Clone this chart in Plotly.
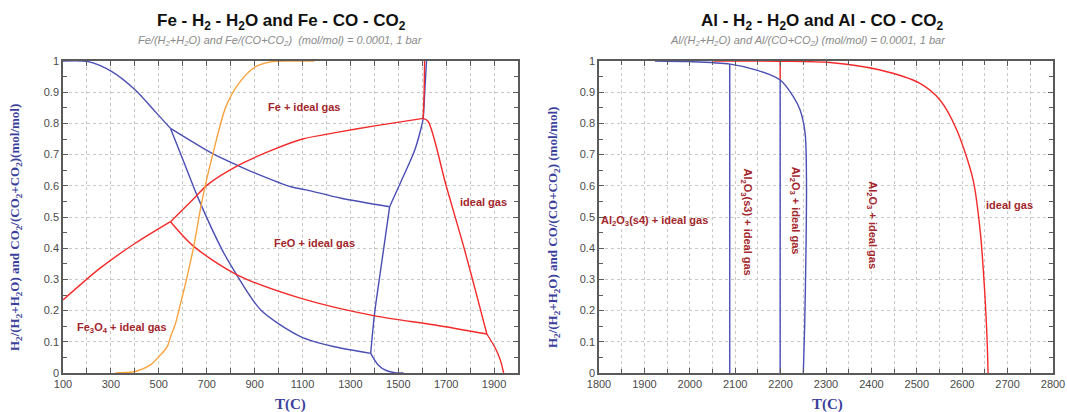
import plotly.graph_objects as go

# ---------------- Data: left panel (Fe) ----------------
fe_blue_a_T = [100, 205, 304, 402, 486, 549]
fe_blue_a_v = [1.0, 0.998, 0.966, 0.907, 0.837, 0.784]
fe_blue_b_T = [549, 600, 668, 765, 821, 926, 1094, 1234, 1385]
fe_blue_b_v = [0.784, 0.685, 0.554, 0.394, 0.320, 0.202, 0.116, 0.084, 0.063]
fe_blue_c_T = [1385, 1416, 1450, 1486, 1522]
fe_blue_c_v = [0.063, 0.026, 0.008, 0.001, 0.0]
fe_blue_d_T = [1385, 1401, 1432, 1464]
fe_blue_d_v = [0.063, 0.191, 0.36, 0.533]
fe_blue_e_T = [549, 723, 842, 905, 1052, 1115, 1262, 1464]
fe_blue_e_v = [0.784, 0.704, 0.661, 0.640, 0.597, 0.587, 0.560, 0.533]
fe_blue_f_T = [1464, 1527, 1569, 1597, 1604, 1611, 1618]
fe_blue_f_v = [0.533, 0.640, 0.715, 0.790, 0.816, 0.907, 1.0]

fe_red_a_T = [100, 255, 400, 549]
fe_red_a_v = [0.234, 0.336, 0.415, 0.485]
fe_red_b_T = [549, 654, 703, 836, 975, 1100, 1250, 1402, 1604]
fe_red_b_v = [0.485, 0.565, 0.603, 0.667, 0.715, 0.750, 0.772, 0.792, 0.816]
fe_red_c_T = [549, 647, 829, 1094, 1402, 1654, 1870]
fe_red_c_v = [0.485, 0.405, 0.314, 0.239, 0.183, 0.154, 0.125]
fe_red_d_T = [1604, 1625, 1700, 1775, 1870]
fe_red_d_v = [0.816, 0.806, 0.600, 0.400, 0.125]
fe_red_e_T = [1870, 1905, 1926, 1940]
fe_red_e_v = [0.125, 0.080, 0.042, 0.0]
fe_red_f_T = [1604, 1608, 1610]
fe_red_f_v = [0.816, 0.900, 1.0]

fe_orange_T = [318, 395, 465, 507, 535, 549, 570, 591, 612, 647, 681, 730, 780, 835, 905, 975, 1045, 1150]
fe_orange_v = [0.0, 0.004, 0.026, 0.058, 0.084, 0.116, 0.159, 0.223, 0.288, 0.41, 0.554, 0.715, 0.853, 0.929, 0.982, 0.998, 1.0, 1.0]

fe_labels = ["Fe + ideal gas", "ideal gas", "FeO + ideal gas", "Fe<sub>3</sub>O<sub>4</sub> + ideal gas"]
fe_label_T = [1108, 1856, 1150, 346]
fe_label_v = [0.851, 0.547, 0.416, 0.143]

# ---------------- Data: right panel (Al) ----------------
al_blue_v1_T = [2088, 2088]
al_blue_v1_v = [0.0, 0.990]
al_blue_v2_T = [2199, 2199]
al_blue_v2_v = [0.0, 0.939]
al_red_v_T = [2199, 2199]
al_red_v_v = [0.939, 1.0]
al_blue_T = [1923, 2000, 2089, 2147, 2199, 2228, 2243, 2254, 2257, 2256, 2253, 2250]
al_blue_v = [1.0, 0.998, 0.990, 0.971, 0.939, 0.886, 0.843, 0.768, 0.619, 0.40, 0.15, 0.0]
al_red_T = [2052, 2200, 2309, 2419, 2507, 2551, 2588, 2624, 2640, 2650, 2655, 2657]
al_red_v = [1.0, 0.999, 0.995, 0.971, 0.928, 0.875, 0.779, 0.619, 0.45, 0.25, 0.10, 0.0]

al_labels = ["Al<sub>2</sub>O<sub>3</sub>(s4) + ideal gas", "Al<sub>2</sub>O<sub>3</sub>(s3) + ideal gas",
             "Al<sub>2</sub>O<sub>3</sub> + ideal gas", "Al<sub>2</sub>O<sub>3</sub> + ideal gas", "ideal gas"]
al_label_T = [1923, 2125, 2232, 2401, 2705]
al_label_v = [0.487, 0.484, 0.52, 0.474, 0.54]
al_label_angle = [0, 90, 90, 90, 0]

fe_xticks = [100, 300, 500, 700, 900, 1100, 1300, 1500, 1700, 1900]
al_xticks = [1800, 1900, 2000, 2100, 2200, 2300, 2400, 2500, 2600, 2700, 2800]
yticks = [0, 0.1, 0.2, 0.3, 0.4, 0.5, 0.6, 0.7, 0.8, 0.9, 1]

BLUE = "#4a4fb4"
RED = "#f42a2a"
ORANGE = "#f9a33e"
LABEL = "#a3262b"
AXTITLE = "#3b3f9c"

fig = go.Figure()

def line(T, v, color, xa, ya, smooth=True):
    shape = "spline" if smooth else "linear"
    fig.add_trace(go.Scatter(x=T, y=v, mode="lines",
                             line=dict(color=color, width=1.4, shape=shape, smoothing=0.8),
                             xaxis=xa, yaxis=ya, showlegend=False, hoverinfo="skip"))

for T, v in [(fe_blue_a_T, fe_blue_a_v), (fe_blue_b_T, fe_blue_b_v), (fe_blue_c_T, fe_blue_c_v),
             (fe_blue_d_T, fe_blue_d_v), (fe_blue_e_T, fe_blue_e_v), (fe_blue_f_T, fe_blue_f_v)]:
    line(T, v, BLUE, "x", "y")
for T, v in [(fe_red_a_T, fe_red_a_v), (fe_red_b_T, fe_red_b_v), (fe_red_c_T, fe_red_c_v),
             (fe_red_d_T, fe_red_d_v), (fe_red_e_T, fe_red_e_v), (fe_red_f_T, fe_red_f_v)]:
    line(T, v, RED, "x", "y")
line(fe_orange_T, fe_orange_v, ORANGE, "x", "y")

line(al_blue_v1_T, al_blue_v1_v, BLUE, "x2", "y2", False)
line(al_blue_v2_T, al_blue_v2_v, BLUE, "x2", "y2", False)
line(al_red_v_T, al_red_v_v, RED, "x2", "y2", False)
line(al_blue_T, al_blue_v, BLUE, "x2", "y2")
line(al_red_T, al_red_v, RED, "x2", "y2")

label_font = dict(family="Liberation Sans Narrow, Liberation Sans, Arial", size=11, color=LABEL)
annotations = []
for t, T, v in zip(fe_labels, fe_label_T, fe_label_v):
    annotations.append(dict(text="<b>" + t + "</b>", x=T, y=v, xref="x", yref="y", showarrow=False,
                            xanchor="center", yanchor="middle", font=label_font))
for t, T, v, a in zip(al_labels, al_label_T, al_label_v, al_label_angle):
    annotations.append(dict(text="<b>" + t + "</b>", x=T, y=v, xref="x2", yref="y2", showarrow=False,
                            xanchor="center", yanchor="middle", textangle=a, font=label_font))

# the page's body margin is removed (see post_script), so the figure fills the window
W, H = 1067, 412
def px(xp):
    return xp / W
def py(yp):
    return 1 - yp / H

def note(text, x, y, font, angle=0):
    return dict(text=text, x=px(x), y=py(y), xref="paper", yref="paper", showarrow=False,
                xanchor="center", yanchor="middle", textangle=angle, font=font)

title_font = dict(family="Liberation Sans, Arial", size=17, color="#111111")
sub_font = dict(family="Liberation Sans, Arial", size=11, color="#8a8a8a")
axt_font = dict(family="Liberation Serif, Times New Roman, serif", size=13, color=AXTITLE)
xt_font = dict(family="Liberation Serif, serif", size=15, color=AXTITLE)
annotations += [
    note("<b>Fe - H<sub>2</sub> - H<sub>2</sub>O and Fe - CO - CO<sub>2</sub></b>", 281, 22, title_font),
    note("<i>Fe/(H<sub>2</sub>+H<sub>2</sub>O) and Fe/(CO+CO<sub>2</sub>)  (mol/mol) = 0.0001, 1 bar</i>", 280, 41, sub_font),
    note("<b>Al - H<sub>2</sub> - H<sub>2</sub>O and Al - CO - CO<sub>2</sub></b>", 822, 22, title_font),
    note("<i>Al/(H<sub>2</sub>+H<sub>2</sub>O) and Al/(CO+CO<sub>2</sub>) (mol/mol) = 0.0001, 1 bar</i>", 808, 41, sub_font),
    note("<b>H<sub>2</sub>/(H<sub>2</sub>+H<sub>2</sub>O) and CO<sub>2</sub>/(CO<sub>2</sub>+CO<sub>2</sub>)(mol/mol)</b>",
         15, 228, axt_font, -90),
    note("<b>H<sub>2</sub>/(H<sub>2</sub>+H<sub>2</sub>O) and CO/(CO+CO<sub>2</sub>) (mol/mol)</b>", 553, 228, axt_font, -90),
    note("<b>T(C)</b>", 290, 404, xt_font),
    note("<b>T(C)</b>", 827, 404, xt_font),
]

tickfont = dict(family="Liberation Sans, Arial", size=11, color="#4a4a4a")
common = dict(showline=True, linecolor="#5a5a5a", linewidth=1.5, mirror="allticks", ticks="inside",
              ticklen=5, tickcolor="#5a5a5a", showgrid=True, gridcolor="#c8c8c8", griddash="dot",
              gridwidth=1, zeroline=False, tickfont=tickfont, fixedrange=True, automargin=False)

fig.update_layout(
    width=W, height=H, margin=dict(l=0, r=0, t=0, b=0, pad=0), autosize=False,
    paper_bgcolor="white", plot_bgcolor="white",
    xaxis=dict(domain=[px(63), px(518)], range=[100, 2000], tickvals=fe_xticks, anchor="y",
               minor=dict(dtick=100, tick0=100, ticks="inside", ticklen=5, tickcolor="#5a5a5a",
                          showgrid=True, gridcolor="#c8c8c8", griddash="dot"), **common),
    yaxis=dict(domain=[py(373), py(61)], range=[0, 1], tickvals=yticks,
               ticktext=[str(t) for t in yticks],
               anchor="x", minor=dict(dtick=0.05, ticks="inside", ticklen=4, tickcolor="#5a5a5a", showgrid=False), **common),
    xaxis2=dict(domain=[px(599), px(1053)], range=[1800, 2800], tickvals=al_xticks, anchor="y2",
                minor=dict(dtick=50, tick0=1800, ticks="inside", ticklen=4, tickcolor="#5a5a5a",
                           showgrid=True, gridcolor="#c8c8c8", griddash="dot"), **common),
    yaxis2=dict(domain=[py(373), py(61)], range=[0, 1], tickvals=yticks, ticktext=[str(t) for t in yticks], anchor="x2",
                minor=dict(dtick=0.05, ticks="inside", ticklen=4, tickcolor="#5a5a5a", showgrid=False), **common),
    annotations=annotations,
)

fig.write_html("out.html", config={"displayModeBar": False},
               post_script="document.body.style.margin='0';document.body.style.overflow='hidden';")
